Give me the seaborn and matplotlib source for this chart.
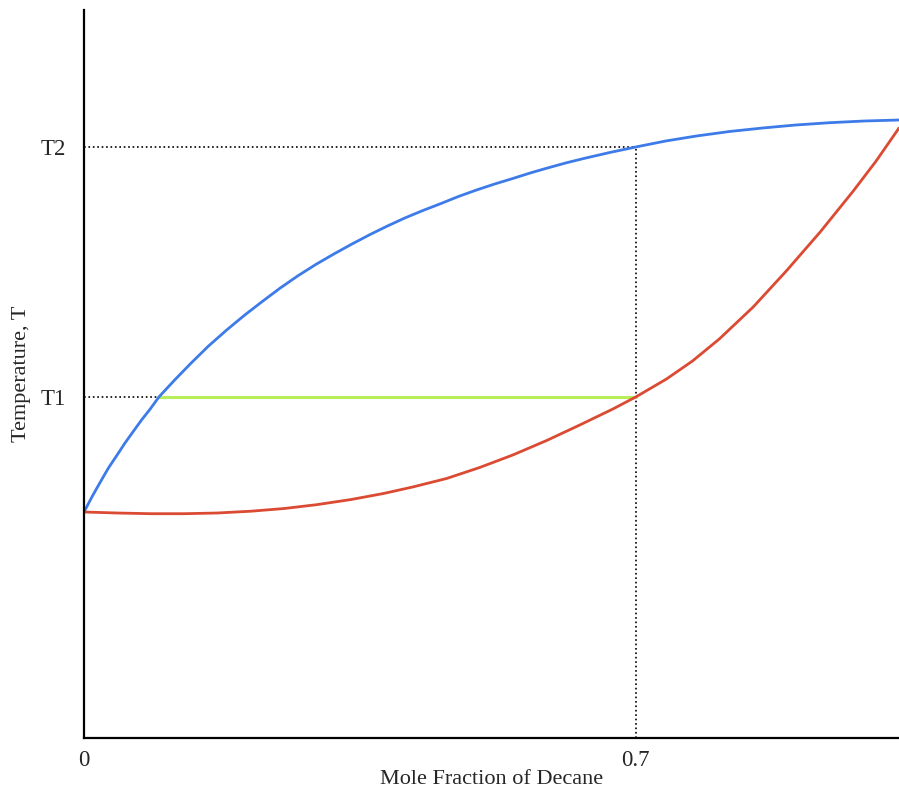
import pandas as pd
import matplotlib.pyplot as plt
import seaborn as sns

# Dew (vapour) curve, blue
vap_x = [0, 0.010, 0.020, 0.031, 0.042, 0.052, 0.062, 0.073, 0.084, 0.095,
         0.115, 0.136, 0.158, 0.181, 0.204, 0.227, 0.249, 0.271, 0.294, 0.317,
         0.340, 0.363, 0.385, 0.407, 0.430, 0.453, 0.475, 0.498, 0.521, 0.544,
         0.566, 0.588, 0.611, 0.634, 0.667, 0.70, 0.738, 0.777, 0.819, 0.861,
         0.903, 0.946, 0.990, 1.034]
vap_t = [226, 241, 255, 270, 283, 295, 306, 318, 329, 341,
         358, 375, 392, 408, 423, 437, 450, 462, 473.5, 484,
         494, 503.5, 512, 520, 527.5, 534.5, 541.5, 548, 554, 559.5,
         565, 570, 575, 579.5, 585.5, 591, 597, 602, 606.5, 610,
         613, 615.3, 617, 618]

# Bubble (liquid) curve, red
liq_x = [0, 0.042, 0.085, 0.127, 0.169, 0.212, 0.254, 0.295, 0.339, 0.380,
         0.417, 0.460, 0.502, 0.544, 0.587, 0.629, 0.671, 0.70, 0.739, 0.772,
         0.806, 0.849, 0.891, 0.934, 0.976, 1.005, 1.034]
liq_t = [226, 225, 224.3, 224.3, 225, 226.8, 229.5, 233.3, 238.5, 244.5,
         251, 259.5, 270.5, 283, 297.5, 313, 329, 341, 359, 377,
         399, 431, 467, 506, 547, 577, 610]

# Temperatures and compositions marked on the chart
T1 = 341
T2 = 591
x_vap_T1 = 0.095
x_mark = 0.7

vap = pd.DataFrame({'x': vap_x, 'T': vap_t})
liq = pd.DataFrame({'x': liq_x, 'T': liq_t})

sns.set_style('white')
plt.rcParams['font.family'] = ['Liberation Serif', 'DejaVu Serif']

fig = plt.figure(figsize=(8.99, 7.91), dpi=100)
ax = fig.add_axes([84 / 899, 53 / 791, 1 - 84 / 899, 728 / 791])

# dotted guides
ax.plot([0, x_vap_T1], [T1, T1], color='black', linestyle=':', linewidth=1.2)
ax.plot([0, x_mark], [T2, T2], color='black', linestyle=':', linewidth=1.2)
ax.plot([x_mark, x_mark], [0, T2], color='black', linestyle=':', linewidth=1.2)

# tie line at T1
ax.plot([x_vap_T1, x_mark], [T1, T1], color='#b7ef5c', linewidth=2.2)

sns.lineplot(data=vap, x='x', y='T', ax=ax, color='#3d7be8', linewidth=2.0)
sns.lineplot(data=liq, x='x', y='T', ax=ax, color='#db4a32', linewidth=2.0)

ax.set_xlim(0, 1.034)
ax.set_ylim(0, 728)
ax.set_xticks([0, x_mark])
ax.set_xticklabels(['0', '0.7'])
ax.set_yticks([T1, T2])
ax.set_yticklabels(['T1', 'T2'])
ax.tick_params(axis='both', length=0, labelsize=16.5)
ax.tick_params(axis='x', pad=9)
ax.tick_params(axis='y', pad=13)

ax.set_xlabel('Mole Fraction of Decane', fontsize=16, labelpad=-1)
ax.set_ylabel('Temperature, T', fontsize=16, labelpad=7)

sns.despine(ax=ax)
for side in ['left', 'bottom']:
    ax.spines[side].set_color('black')
    ax.spines[side].set_linewidth(1.6)

fig.savefig('out.png', dpi=100)
plt.close()
